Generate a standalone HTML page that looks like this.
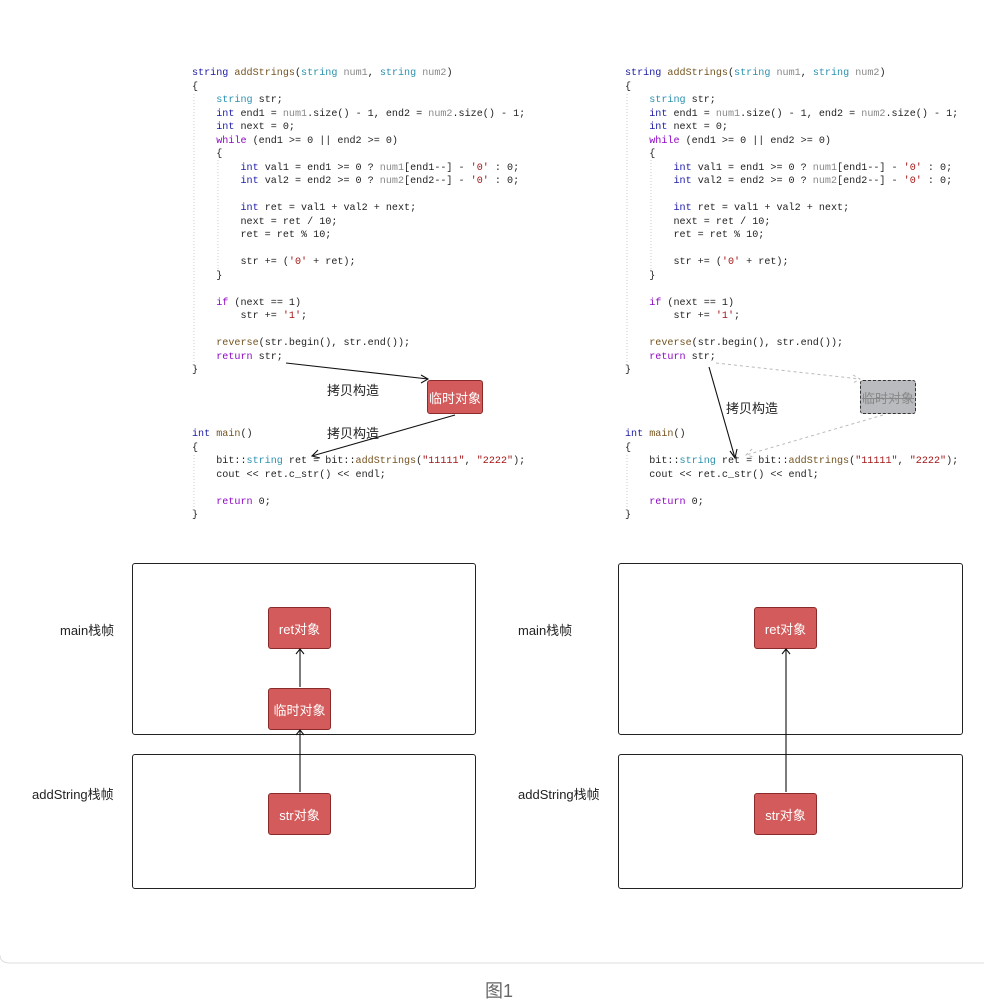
<!DOCTYPE html>
<html><head><meta charset="utf-8"><style>
body{margin:0;background:#fff;width:984px;height:1002px;position:relative;overflow:hidden;font-family:"Liberation Sans","Noto Sans CJK SC",sans-serif}
.code{position:absolute;font-family:"Liberation Mono",monospace;font-size:10.1px;line-height:13.5px;white-space:pre;color:#1f1f1f}
.k{color:#1a1aa6}.t{color:#2b91af}.p{color:#8f08c4}.s{color:#a31515}.g{color:#888}.f{color:#74531f}
.frame{position:absolute;border:1px solid #222;border-radius:3px;background:#fff}
.rb{position:absolute;background:#d45b5b;border:1px solid #8a2a2a;border-radius:3px;color:#fff;font-size:13px;display:flex;align-items:center;justify-content:center}
.lbl{position:absolute;font-size:13px;color:#222}
</style></head><body>
<div class="code" style="left:192px;top:67px"><span class="k">string</span> <span class="f">addStrings</span>(<span class="t">string</span> <span class="g">num1</span>, <span class="t">string</span> <span class="g">num2</span>)
{
    <span class="t">string</span> str;
    <span class="k">int</span> end1 = <span class="g">num1</span>.size() - 1, end2 = <span class="g">num2</span>.size() - 1;
    <span class="k">int</span> next = 0;
    <span class="p">while</span> (end1 &gt;= 0 || end2 &gt;= 0)
    {
        <span class="k">int</span> val1 = end1 &gt;= 0 ? <span class="g">num1</span>[end1--] - <span class="s">'0'</span> : 0;
        <span class="k">int</span> val2 = end2 &gt;= 0 ? <span class="g">num2</span>[end2--] - <span class="s">'0'</span> : 0;

        <span class="k">int</span> ret = val1 + val2 + next;
        next = ret / 10;
        ret = ret % 10;

        str += (<span class="s">'0'</span> + ret);
    }

    <span class="p">if</span> (next == 1)
        str += <span class="s">'1'</span>;

    <span class="f">reverse</span>(str.begin(), str.end());
    <span class="p">return</span> str;
}</div>
<div class="code" style="left:192px;top:428px"><span class="k">int</span> <span class="f">main</span>()
{
    bit::<span class="t">string</span> ret = bit::<span class="f">addStrings</span>(<span class="s">"11111"</span>, <span class="s">"2222"</span>);
    cout &lt;&lt; ret.c_str() &lt;&lt; endl;

    <span class="p">return</span> 0;
}</div>
<div class="code" style="left:625px;top:67px"><span class="k">string</span> <span class="f">addStrings</span>(<span class="t">string</span> <span class="g">num1</span>, <span class="t">string</span> <span class="g">num2</span>)
{
    <span class="t">string</span> str;
    <span class="k">int</span> end1 = <span class="g">num1</span>.size() - 1, end2 = <span class="g">num2</span>.size() - 1;
    <span class="k">int</span> next = 0;
    <span class="p">while</span> (end1 &gt;= 0 || end2 &gt;= 0)
    {
        <span class="k">int</span> val1 = end1 &gt;= 0 ? <span class="g">num1</span>[end1--] - <span class="s">'0'</span> : 0;
        <span class="k">int</span> val2 = end2 &gt;= 0 ? <span class="g">num2</span>[end2--] - <span class="s">'0'</span> : 0;

        <span class="k">int</span> ret = val1 + val2 + next;
        next = ret / 10;
        ret = ret % 10;

        str += (<span class="s">'0'</span> + ret);
    }

    <span class="p">if</span> (next == 1)
        str += <span class="s">'1'</span>;

    <span class="f">reverse</span>(str.begin(), str.end());
    <span class="p">return</span> str;
}</div>
<div class="code" style="left:625px;top:428px"><span class="k">int</span> <span class="f">main</span>()
{
    bit::<span class="t">string</span> ret = bit::<span class="f">addStrings</span>(<span class="s">"11111"</span>, <span class="s">"2222"</span>);
    cout &lt;&lt; ret.c_str() &lt;&lt; endl;

    <span class="p">return</span> 0;
}</div>

<div class="rb" style="left:427px;top:380px;width:54px;height:32px">临时对象</div>
<div class="rb" style="left:860px;top:380px;width:54px;height:32px;background:#b9bbbf;border:1px dashed #333;color:#888;text-decoration:line-through">临时对象</div>
<div class="lbl" style="left:327px;top:380px">拷贝构造</div>
<div class="lbl" style="left:327px;top:423px">拷贝构造</div>
<div class="lbl" style="left:726px;top:398px">拷贝构造</div>

<div class="frame" style="left:132px;top:563px;width:342px;height:170px"></div>
<div class="frame" style="left:132px;top:754px;width:342px;height:133px"></div>
<div class="frame" style="left:618px;top:563px;width:343px;height:170px"></div>
<div class="frame" style="left:618px;top:754px;width:343px;height:133px"></div>
<div class="lbl" style="left:60px;top:620px">main栈帧</div>
<div class="lbl" style="left:32px;top:784px">addString栈帧</div>
<div class="lbl" style="left:518px;top:620px">main栈帧</div>
<div class="lbl" style="left:518px;top:784px">addString栈帧</div>
<div class="rb" style="left:268px;top:607px;width:61px;height:40px">ret对象</div>
<div class="rb" style="left:268px;top:688px;width:61px;height:40px">临时对象</div>
<div class="rb" style="left:268px;top:793px;width:61px;height:40px">str对象</div>
<div class="rb" style="left:754px;top:607px;width:61px;height:40px">ret对象</div>
<div class="rb" style="left:754px;top:793px;width:61px;height:40px">str对象</div>

<svg width="984" height="1002" style="position:absolute;left:0;top:0" fill="none">
<g stroke="#ccc" stroke-dasharray="1,2">
<line x1="194" y1="94" x2="194" y2="365"/><line x1="218" y1="160" x2="218" y2="272"/>
<line x1="194" y1="455" x2="194" y2="510"/>
<line x1="627" y1="94" x2="627" y2="365"/><line x1="651" y1="160" x2="651" y2="272"/>
<line x1="627" y1="455" x2="627" y2="510"/>
</g>
<g stroke="#111" stroke-width="1.1">
<line x1="286" y1="363" x2="428" y2="379"/><polyline points="421,375 428,379 421,383"/>
<line x1="455" y1="415" x2="312" y2="456"/><polyline points="318,450 312,456 320,458"/>
<line x1="709" y1="367" x2="735" y2="458"/><polyline points="730,451 735,458 737,449"/>
<line x1="300" y1="687" x2="300" y2="649"/><polyline points="296,654 300,649 304,654"/>
<line x1="300" y1="792" x2="300" y2="730"/><polyline points="296,735 300,730 304,735"/>
<line x1="786" y1="792" x2="786" y2="649"/><polyline points="782,654 786,649 790,654"/>
</g>
<g stroke="#bbb" stroke-dasharray="3,3">
<line x1="716" y1="363" x2="860" y2="379"/><polyline points="853,375 860,379 853,383"/>
<line x1="883" y1="415" x2="746" y2="455"/><polyline points="752,449 746,455 754,457"/>
</g>
<path d="M0,955 Q0,963 10,963 L984,963" stroke="#ddd"/>
</svg>
<div style="position:absolute;left:485px;top:977px;font-size:18px;color:#666">图1</div>
</body></html>
